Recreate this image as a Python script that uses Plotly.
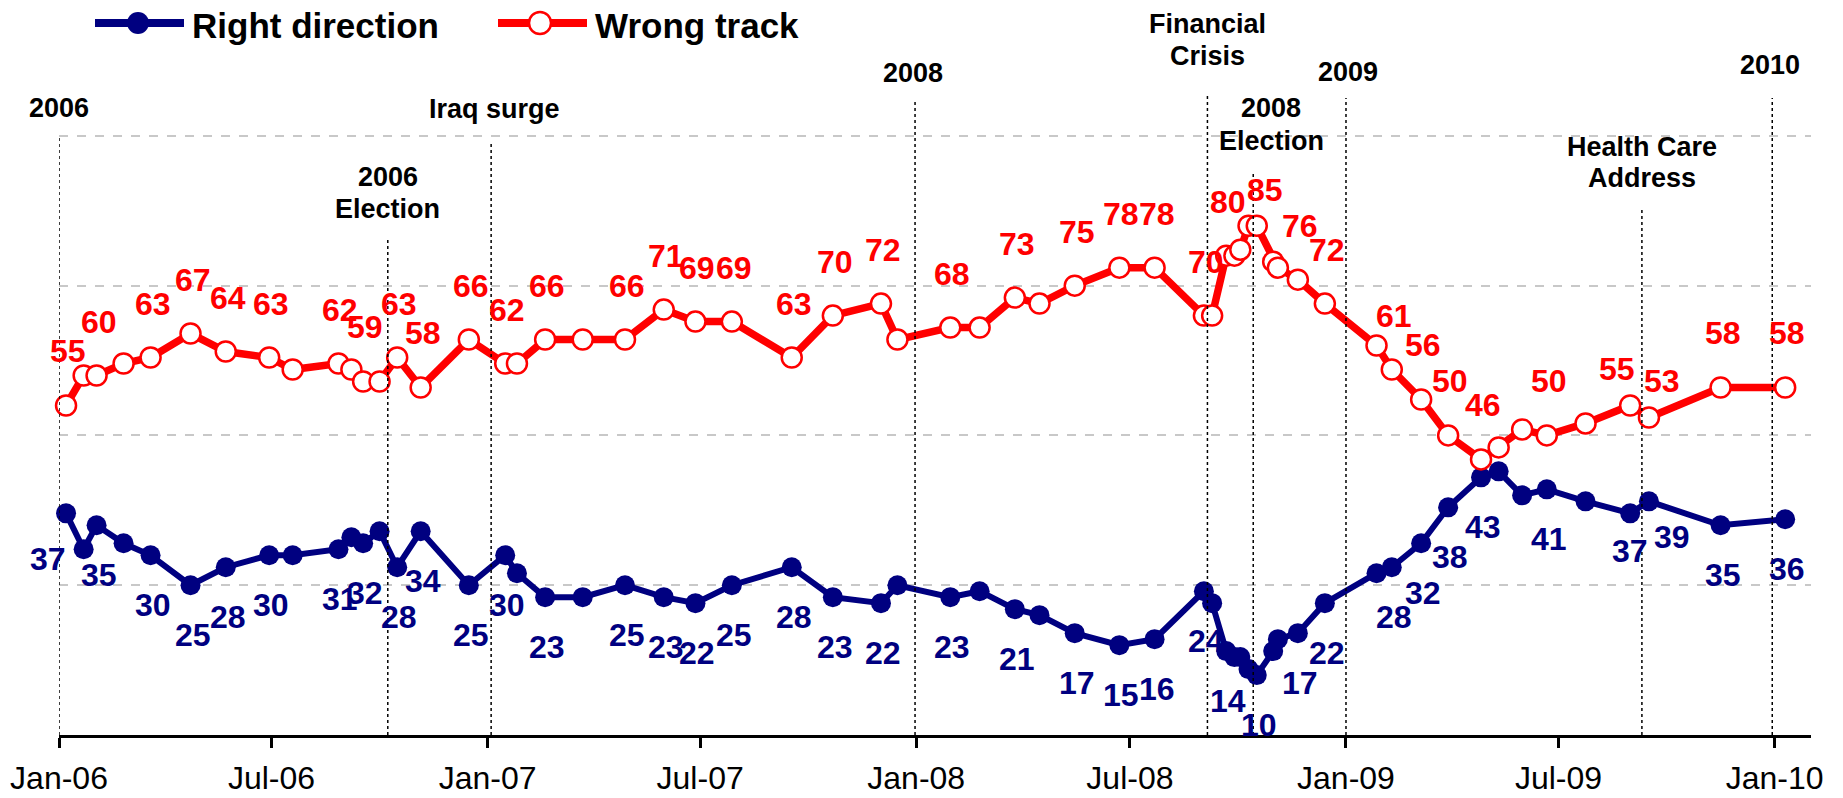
import plotly.graph_objects as go

# ---------------- data ----------------
poll_dates = [
    "2006-01-07", "2006-01-22", "2006-02-02", "2006-02-25", "2006-03-20", "2006-04-23",
    "2006-05-23", "2006-06-29", "2006-07-19", "2006-08-27", "2006-09-07", "2006-09-17",
    "2006-10-01", "2006-10-16", "2006-11-05", "2006-12-16", "2007-01-16", "2007-01-26",
    "2007-02-19", "2007-03-23", "2007-04-28", "2007-05-31", "2007-06-27", "2007-07-28",
    "2007-09-17", "2007-10-22", "2007-12-02", "2007-12-16", "2008-01-30", "2008-02-24",
    "2008-03-25", "2008-04-15", "2008-05-15", "2008-06-22", "2008-07-22", "2008-09-02",
    "2008-09-09", "2008-09-21", "2008-09-28", "2008-10-03", "2008-10-10", "2008-10-17",
    "2008-10-31", "2008-11-04", "2008-11-21", "2008-12-14", "2009-01-27", "2009-02-09",
    "2009-03-06", "2009-03-29", "2009-04-26", "2009-05-11", "2009-05-31", "2009-06-21",
    "2009-07-24", "2009-08-31", "2009-09-16", "2009-11-16", "2010-01-10",
]
right_direction = [
    37, 31, 35, 32, 30, 25, 28, 30, 30, 31, 33, 32, 34, 28, 34, 25, 30, 27, 23, 23,
    25, 23, 22, 25, 28, 23, 22, 25, 23, 24, 21, 20, 17, 15, 16, 24, 22, 14, 13, 13,
    11, 10, 14, 16, 17, 22, 27, 28, 32, 38, 43, 44, 40, 41, 39, 37, 39, 35, 36,
]
wrong_track = [
    55, 60, 60, 62, 63, 67, 64, 63, 61, 62, 61, 59, 59, 63, 58, 66, 62, 62, 66, 66,
    66, 71, 69, 69, 63, 70, 72, 66, 68, 68, 73, 72, 75, 78, 78, 70, 70, 80, 80, 81,
    85, 85, 79, 78, 76, 72, 65, 61, 56, 50, 46, 48, 51, 50, 52, 55, 53, 58, 58,
]
# indices of polls whose values are printed on the chart
labeled_points = [0, 2, 4, 5, 6, 7, 9, 11, 13, 14, 15, 16, 18, 20, 21, 22, 23, 24, 25, 26,
                  28, 30, 32, 33, 34, 35, 37, 41, 44, 45, 47, 48, 49, 50, 53, 55, 56, 57, 58]

tick_dates = ["2006-01-01", "2006-07-01", "2007-01-01", "2007-07-01", "2008-01-01",
              "2008-07-01", "2009-01-01", "2009-07-01", "2010-01-01"]
tick_labels = ["Jan-06", "Jul-06", "Jan-07", "Jul-07", "Jan-08",
               "Jul-08", "Jan-09", "Jul-09", "Jan-10"]

event_names = ["2006", "2006<br>Election", "Iraq surge", "2008", "Financial<br>Crisis",
               "2008<br>Election", "2009", "Health Care<br>Address", "2010"]
event_dates = ["2006-01-01", "2006-10-08", "2007-01-04", "2007-12-31", "2008-09-05",
               "2008-10-14", "2009-01-01", "2009-09-10", "2009-12-30"]

# ---------------- style ----------------
NAVY = "#000080"
RED = "#FF0000"
FONT = "Arial, Liberation Sans, sans-serif"
OFF = 0                       # page body margin (removed by post_script below)
W, H = 1843, 798
ML, MT = 59, 16
PW, PH = 1752, 719
MR, MB = W - ML - PW, H - MT - PH
Y_PER_PX = 120 / PH           # data units per pixel on the y axis
Y0_PX = OFF + MT + PH         # screen pixel of y = 0


def pxx(px):                  # screen pixel -> paper x
    return (px - OFF - ML) / PW


def pxy(py):                  # screen pixel -> paper y
    return (Y0_PX - py) / PH


def py2val(py):               # screen pixel -> y data value
    return (Y0_PX - py) * Y_PER_PX


fig = go.Figure()
fig.add_trace(go.Scatter(
    x=poll_dates, y=right_direction, mode="lines+markers", name="Right direction",
    line=dict(color=NAVY, width=6),
    marker=dict(color=NAVY, size=20, line=dict(color=NAVY, width=0)),
    showlegend=False, cliponaxis=False, hoverinfo="skip",
))
fig.add_trace(go.Scatter(
    x=poll_dates, y=wrong_track, mode="lines+markers", name="Wrong track",
    line=dict(color=RED, width=7.5),
    marker=dict(color="white", size=20, line=dict(color=RED, width=2.5)),
    showlegend=False, cliponaxis=False, hoverinfo="skip",
))

# data labels
red_adj = {55: (-13, 36), 56: (13, 36), 41: (8, 36)}
blue_adj = {0: (-18, -46), 55: (0, -38), 56: (23, -36)}
for i in labeled_points:
    dx, dy = red_adj.get(i, (2, 54))
    fig.add_annotation(x=poll_dates[i], y=wrong_track[i], text=str(wrong_track[i]),
                       showarrow=False, xshift=dx, yshift=dy, yanchor="middle",
                       font=dict(family=FONT, size=32, color=RED, weight="bold"))
    dx, dy = blue_adj.get(i, (2, -50))
    fig.add_annotation(x=poll_dates[i], y=right_direction[i], text=str(right_direction[i]),
                       showarrow=False, xshift=dx, yshift=dy, yanchor="middle",
                       font=dict(family=FONT, size=32, color=NAVY, weight="bold"))

# event lines and labels (label line centres in screen px)
line_tops = [100.1, 82.9, 99, 106, 107, 93.8, 106.3, 88.1, 106.3]
label_rows = [(0, [108]), (0, [177, 209]), (3, [109]), (-2, [73]), (0, [24, 56]),
              (18, [108, 141]), (2, [72]), (0, [147, 178]), (-2, [65])]
for name, d, top, (dx, rows) in zip(event_names, event_dates, line_tops, label_rows):
    fig.add_shape(type="line", xref="x", yref="y", x0=d, x1=d, y0=0, y1=top,
                  line=dict(color="black", width=1.5, dash="dot"))
    for part, py in zip(name.split("<br>"), rows):
        fig.add_annotation(x=d, y=py2val(py), text=part, showarrow=False, xshift=dx,
                           yanchor="middle", align="center",
                           font=dict(family=FONT, size=27, color="black", weight="bold"))

# custom legend (long line with marker in the middle)
for x0, x1, cx, col, fill, label in [(95, 184, 138, NAVY, NAVY, "Right direction"),
                                     (498, 587, 540, RED, "white", "Wrong track")]:
    fig.add_shape(type="line", xref="paper", yref="paper", x0=pxx(x0), x1=pxx(x1),
                  y0=pxy(23), y1=pxy(23), line=dict(color=col, width=8))
    fig.add_shape(type="circle", xref="paper", yref="paper",
                  x0=pxx(cx - 11), x1=pxx(cx + 11), y0=pxy(34), y1=pxy(12),
                  fillcolor=fill, line=dict(color=col, width=2.5 if fill == "white" else 0))
    fig.add_annotation(xref="paper", yref="paper", x=pxx(x1 + 6), y=pxy(25),
                       xanchor="left", yanchor="middle", text=label, showarrow=False,
                       font=dict(family=FONT, size=35, color="black", weight="bold"))

fig.update_layout(
    width=W, height=H, autosize=False,
    margin=dict(l=ML, r=MR, t=MT, b=MB, pad=0, autoexpand=False),
    paper_bgcolor="white", plot_bgcolor="white",
    showlegend=False, hovermode=False,
    xaxis=dict(
        type="date", range=["2006-01-01", "2010-02-01"], automargin=False,
        tickvals=tick_dates, ticktext=tick_labels,
        showgrid=False, zeroline=False,
        showline=True, linecolor="black", linewidth=3,
        ticks="outside", ticklen=10, tickwidth=2.5, tickcolor="black",
        tickfont=dict(family=FONT, size=32, color="black"),
        ticklabelstandoff=3,
    ),
    yaxis=dict(
        range=[0, 120], tickvals=[25, 50, 75, 100], showticklabels=False,
        automargin=False,
        showgrid=True, gridcolor="#c8c8c8", gridwidth=1.5, griddash="dash",
        zeroline=False, showline=False, ticks="",
    ),
)

fig.write_html("out.html", config={"displayModeBar": False},
               post_script="document.body.style.margin='0px';")
